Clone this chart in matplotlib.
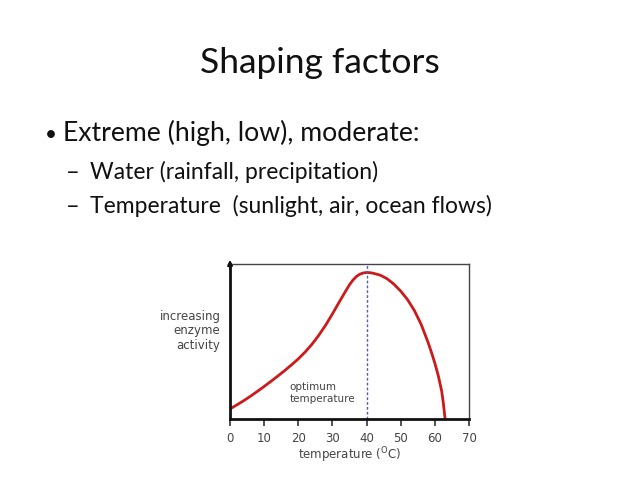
import matplotlib
matplotlib.use("Agg")
import matplotlib.pyplot as plt

# data
temperature = [0, 2, 4, 6, 8, 10, 12, 14, 16, 18, 20, 22, 24, 26, 28, 30, 32, 34, 35, 36, 37, 38, 39, 40,
               41, 42, 44, 46, 48, 50, 52, 54, 56, 58, 59, 60, 61, 62, 62.5, 63]
activity = [6.5, 9.1, 11.8, 14.7, 17.8, 21, 24.3, 27.7, 31.2, 34.9, 38.8, 43.2, 48.2, 54, 60.5, 67.8, 75.5, 83,
            86.6, 89.6, 91.9, 93.4, 94.2, 94.5,
            94.4, 94, 92.8, 90.5, 87, 82.5, 77, 70, 61, 49.5, 43, 36, 28, 18, 10, 0]
optimum = 40
xticks = [0, 10, 20, 30, 40, 50, 60, 70]

title = "Shaping factors"
bullet = "Extreme (high, low), moderate:"
subs = ["Water (rainfall, precipitation)", "Temperature  (sunlight, air, ocean flows)"]

fig = plt.figure(figsize=(6.4, 4.8), dpi=100)
slide_font = ["Lato", "DejaVu Sans"]

fig.text(0.5, 1 - 73 / 480, title, ha="center", va="baseline", fontsize=25.5, family=slide_font, color="#111111")
fig.text(45 / 640, 1 - 141 / 480, "\u2022", ha="left", va="baseline", fontsize=15, family=slide_font, color="#111111")
fig.text(63 / 640, 1 - 141 / 480, bullet, ha="left", va="baseline", fontsize=19.2, family=slide_font, color="#111111")
for i, s in enumerate(subs):
    yb = 1 - (179 + 34 * i) / 480
    fig.text(66 / 640, yb, "\u2013", ha="left", va="baseline", fontsize=17, family=slide_font, color="#111111")
    fig.text(90 / 640, yb, s, ha="left", va="baseline", fontsize=16.5, family=slide_font, color="#111111")

ax = fig.add_axes([230 / 640, 1 - 419 / 480, (469 - 230) / 640, (419 - 264) / 480])
ax.plot(temperature, activity, color="#cc1a1a", lw=2, solid_capstyle="butt", solid_joinstyle="round")
ax.axvline(optimum, color="#5a5aa8", lw=1, ls=(0, (2, 1.5)))
ax.set_xlim(0, 70)
ax.set_ylim(0, 100)
ax.set_yticks([])
ax.set_xticks(xticks)
ax.tick_params(axis="x", direction="out", length=5, width=1.2, colors="#333333", labelsize=8.5, pad=4, labelcolor="#444444")
for lbl in ax.get_xticklabels():
    lbl.set_family("DejaVu Sans")
ax.spines["left"].set_linewidth(2)
ax.spines["bottom"].set_linewidth(2)
ax.spines["left"].set_color("#111111")
ax.spines["bottom"].set_color("#111111")
ax.spines["top"].set_color("#444444")
ax.spines["right"].set_color("#444444")
ax.spines["top"].set_linewidth(1)
ax.spines["right"].set_linewidth(1)
ax.annotate("", xy=(0, 1.045), xycoords="axes fraction", xytext=(0, 0.95),
            arrowprops=dict(arrowstyle="-|>", color="#111111", lw=1.5, mutation_scale=7))
ax.set_xlabel(r"temperature ($^{\mathrm{O}}$C)", fontsize=8.5, color="#444444", labelpad=1, family="DejaVu Sans")
ax.text(-0.04, 0.57, "increasing\nenzyme\nactivity", transform=ax.transAxes, ha="right", va="center",
        fontsize=8.5, color="#444444", linespacing=1.15, family="DejaVu Sans")
ax.text(17.5, 9.5, "optimum\ntemperature", ha="left", va="bottom", fontsize=7.5, color="#444444",
        linespacing=1.3, family="DejaVu Sans")

fig.savefig("out.png", dpi=100)
